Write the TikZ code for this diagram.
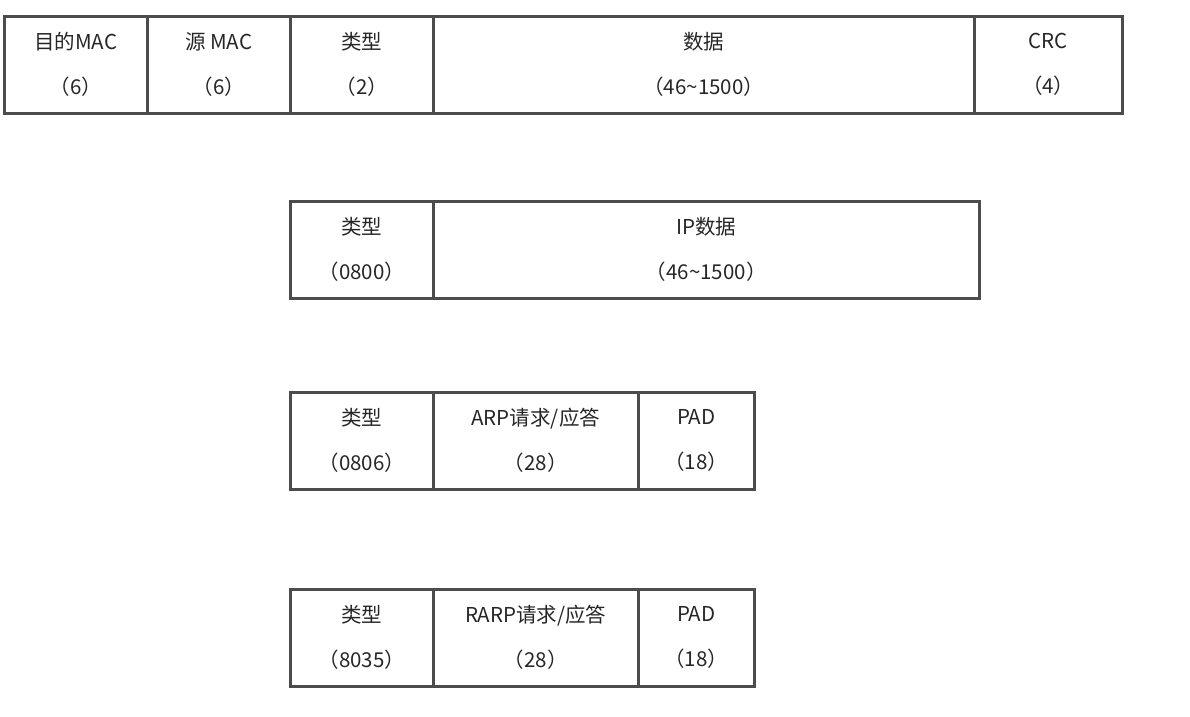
\documentclass[tikz,border=0pt]{standalone}
\usepackage{fontspec}
\setmainfont{Noto Sans CJK SC}
\begin{document}
\begin{tikzpicture}[x=1pt,y=-1pt,
 cell/.style={draw=black!70,line width=2.5pt,anchor=north west,minimum height=97pt,inner sep=0pt,align=center,font=\fontsize{20.5}{45}\selectfont,text=black!85}]
\useasboundingbox (0,0) rectangle (1190,716);
\def\cellat#1#2#3#4#5{\node[cell,minimum width=#3pt] (#1) at (#2,#4) {#5};}
\cellat{a1}{3}{143}{15}{目的MAC\\（6）}
\cellat{a2}{146}{143}{15}{源 MAC\\（6）}
\cellat{a3}{289}{143}{15}{类型\\（2）}
\cellat{a4}{432}{541}{15}{数据\\（46\textasciitilde1500）}
\cellat{a5}{973}{148}{15}{CRC\\（4）}
\cellat{b1}{289}{143}{200}{类型\\（0800）}
\cellat{b2}{432}{546}{200}{IP数据\\（46\textasciitilde1500）}
\cellat{c1}{289}{143}{391}{类型\\（0806）}
\cellat{c2}{432}{205}{391}{ARP请求/应答\\（28）}
\cellat{c3}{637}{116}{391}{PAD\\（18）}
\cellat{d1}{289}{143}{588}{类型\\（8035）}
\cellat{d2}{432}{205}{588}{RARP请求/应答\\（28）}
\cellat{d3}{637}{116}{588}{PAD\\（18）}
\end{tikzpicture}
\end{document}
